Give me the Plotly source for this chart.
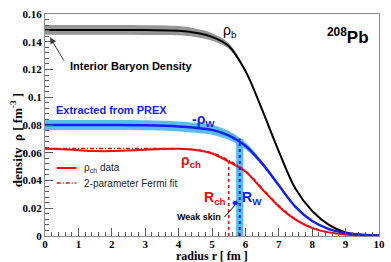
import plotly.graph_objects as go

# ---- data ----
r = [0, 1, 2, 3, 4, 4.5, 5, 5.5, 6, 6.5, 7, 7.5, 8, 8.5, 9, 9.5, 10]
rho_b = [0.1485, 0.1485, 0.1485, 0.1484, 0.148, 0.1465, 0.1435, 0.137, 0.119,
         0.091, 0.061, 0.034, 0.018, 0.008, 0.0025, 0.0008, 0.0002]
rho_b_err = [0.0035, 0.0035, 0.0035, 0.0035, 0.0033, 0.003, 0.0027, 0.002, 0.0008,
             0.0002, 0, 0, 0, 0, 0, 0, 0]
rho_w = [0.080, 0.080, 0.080, 0.0798, 0.079, 0.078, 0.0765, 0.0725, 0.065,
         0.0523, 0.0365, 0.021, 0.0108, 0.005, 0.0022, 0.0009, 0.0004]
rho_w_err = [0.0036, 0.0036, 0.0036, 0.0036, 0.0036, 0.0036, 0.0035, 0.0032, 0.0025,
             0.0015, 0.001, 0.0007, 0.0004, 0.0002, 0.0001, 0, 0]
r_ch = [0, 0.5, 1, 1.5, 2, 2.5, 3, 3.5, 4, 4.5, 5, 5.5, 6, 6.5, 7, 7.5, 8, 8.5, 9, 9.5, 10]
rho_ch = [0.0628, 0.0626, 0.0618, 0.0612, 0.0612, 0.0616, 0.0622, 0.0627, 0.0628, 0.062,
          0.0595, 0.0536, 0.0465, 0.0338, 0.0213, 0.0118, 0.0057, 0.0026, 0.001, 0.0004, 0.0001]
rho_fit = [0.063, 0.063, 0.063, 0.063, 0.063, 0.063, 0.063, 0.063, 0.0629, 0.0622,
           0.06, 0.0545, 0.047, 0.0345, 0.022, 0.0122, 0.006, 0.0027, 0.0011, 0.0004, 0.0002]
R_ch = 5.50
R_w = 5.83
R_w_err = 0.11
R_ch_top = 0.0536
R_w_top = 0.0700

BLACK = "black"
GRAY = "rgb(150,150,150)"
BLUE = "rgb(20,30,240)"
LBLUE = "rgb(90,190,245)"
RED = "rgb(240,10,10)"

fig = go.Figure()

# baryon band
fig.add_trace(go.Scatter(x=r, y=[v + e for v, e in zip(rho_b, rho_b_err)], mode="lines",
                         line=dict(width=0, shape="spline", color=GRAY), showlegend=False))
fig.add_trace(go.Scatter(x=r, y=[v - e for v, e in zip(rho_b, rho_b_err)], mode="lines",
                         line=dict(width=0, shape="spline", color=GRAY), fill="tonexty",
                         fillcolor=GRAY, showlegend=False))
# weak band
fig.add_trace(go.Scatter(x=r, y=[v + e for v, e in zip(rho_w, rho_w_err)], mode="lines",
                         line=dict(width=0, shape="spline", color=LBLUE), showlegend=False))
fig.add_trace(go.Scatter(x=r, y=[v - e for v, e in zip(rho_w, rho_w_err)], mode="lines",
                         line=dict(width=0, shape="spline", color=LBLUE), fill="tonexty",
                         fillcolor=LBLUE, showlegend=False))
# R_W band
fig.add_trace(go.Scatter(x=[R_w - R_w_err, R_w + R_w_err, R_w + R_w_err, R_w - R_w_err],
                         y=[0, 0, R_w_top, R_w_top], mode="lines", fill="toself",
                         fillcolor=LBLUE, line=dict(width=0), showlegend=False))
# curves
fig.add_trace(go.Scatter(x=r, y=rho_b, mode="lines",
                         line=dict(color=BLACK, width=2, shape="spline"), showlegend=False))
fig.add_trace(go.Scatter(x=r_ch, y=rho_fit, mode="lines",
                         line=dict(color=RED, width=1.5, shape="spline", dash="4px,2px,1px,2px"),
                         showlegend=False))
fig.add_trace(go.Scatter(x=r_ch, y=rho_ch, mode="lines",
                         line=dict(color=RED, width=2, shape="spline"), showlegend=False))
fig.add_trace(go.Scatter(x=r, y=rho_w, mode="lines",
                         line=dict(color=BLUE, width=2.5, shape="spline"), showlegend=False))
# radius markers
fig.add_trace(go.Scatter(x=[R_ch, R_ch], y=[0, R_ch_top], mode="lines",
                         line=dict(color=RED, width=1.5, dash="dot"), showlegend=False))
fig.add_trace(go.Scatter(x=[R_w, R_w], y=[0, R_w_top], mode="lines",
                         line=dict(color=BLUE, width=2, dash="dot"), showlegend=False))

SANS = "Liberation Sans"
SERIF = "Liberation Serif"

ann = []
def txt(x, y, t, color, size, weight="normal", xanchor="center", xref="x", yref="y", family=SANS):
    ann.append(dict(x=x, y=y, xref=xref, yref=yref, text=t, showarrow=False, xanchor=xanchor,
                    yanchor="middle", font=dict(family=family, size=size, color=color, weight=weight)))

txt(5.55, 0.1475, "ρ<sub>b</sub>", BLACK, 14)
txt(4.76, 0.0836, "-ρ<sub>W</sub>", BLUE, 14, "bold")
txt(4.38, 0.054, "ρ<sub>ch</sub>", RED, 14, "bold")
txt(5.08, 0.0274, "R<sub>ch</sub>", RED, 14, "bold")
txt(6.2, 0.0274, "R<sub>W</sub>", BLUE, 14, "bold")
txt(4.6, 0.0137, "Weak skin", BLACK, 9, "bold")
txt(0.68, 0.1228, "Interior Baryon Density", BLACK, 11, "bold", xanchor="left")
txt(0.28, 0.0905, "Extracted from PREX", BLUE, 11, "bold", xanchor="left")
txt(0.975, 0.9, "<sup>208</sup>Pb", BLACK, 17, "bold", xanchor="right", xref="paper", yref="paper")
txt(1.11, 0.049, "ρ<sub>ch</sub> data", "rgb(40,40,40)", 10, xanchor="left")
txt(1.11, 0.0382, "2-parameter Fermi fit", "rgb(40,40,40)", 10, xanchor="left")

# arrows
ann.append(dict(x=0.15, y=0.1432, ax=0.59, ay=0.1254, xref="x", yref="y", axref="x", ayref="y",
                text="", showarrow=True, arrowhead=2, arrowsize=1.3, arrowwidth=1, arrowcolor="rgb(60,60,60)"))
ann.append(dict(x=5.70, y=0.0225, ax=5.33, ay=0.0125, xref="x", yref="y", axref="x", ayref="y",
                text="", showarrow=True, arrowhead=0, arrowwidth=1, arrowcolor="black"))
ann.append(dict(x=5.80, y=0.0238, ax=5.55, ay=0.0238, xref="x", yref="y", axref="x", ayref="y",
                text="", showarrow=True, arrowhead=2, arrowside="end+start", arrowsize=0.7,
                arrowwidth=1.5, arrowcolor=BLUE, standoff=0, startstandoff=0))

# axis titles
ann.append(dict(x=-0.088, y=0.43, xref="paper", yref="paper", text="density  ρ [ fm<sup>-3</sup> ]",
                textangle=-90, showarrow=False, xanchor="center", yanchor="middle",
                font=dict(family=SERIF, size=13, color="black", weight="bold")))
ann.append(dict(x=0.5, y=-0.09, xref="paper", yref="paper", text="radius r [ fm ]",
                showarrow=False, xanchor="center", yanchor="middle",
                font=dict(family=SERIF, size=12, color="black", weight="bold")))

shapes = [
    dict(type="line", xref="x", yref="y", x0=0.35, x1=0.94, y0=0.049, y1=0.049,
         line=dict(color=RED, width=2)),
    dict(type="line", xref="x", yref="y", x0=0.35, x1=0.94, y0=0.0382, y1=0.0382,
         line=dict(color=RED, width=1.5, dash="4px,2px,1px,2px")),
]

axis_common = dict(showline=True, linecolor="rgb(140,140,140)", linewidth=1, mirror=True,
                   ticks="inside", tickcolor="rgb(90,90,90)", ticklen=8, tickwidth=1,
                   showgrid=False, zeroline=False,
                   tickfont=dict(family=SERIF, size=11, color="black", weight="bold"))

fig.update_layout(
    width=391, height=262,
    margin=dict(l=45, r=6, t=14, b=26),
    paper_bgcolor="white", plot_bgcolor="white",
    annotations=ann, shapes=shapes, showlegend=False,
    xaxis=dict(range=[0, 10], dtick=1, tick0=0, ticklabelstandoff=-2,
               minor=dict(dtick=0.2, ticklen=4, ticks="inside", tickcolor="rgb(90,90,90)"),
               **axis_common),
    yaxis=dict(range=[0, 0.16], dtick=0.02, tick0=0,
               minor=dict(dtick=0.004, ticklen=4, ticks="inside", tickcolor="rgb(90,90,90)"),
               **axis_common),
)

fig.write_html("out.html", config={"displayModeBar": False},
               post_script="document.body.style.margin='0';document.body.style.overflow='hidden';")
